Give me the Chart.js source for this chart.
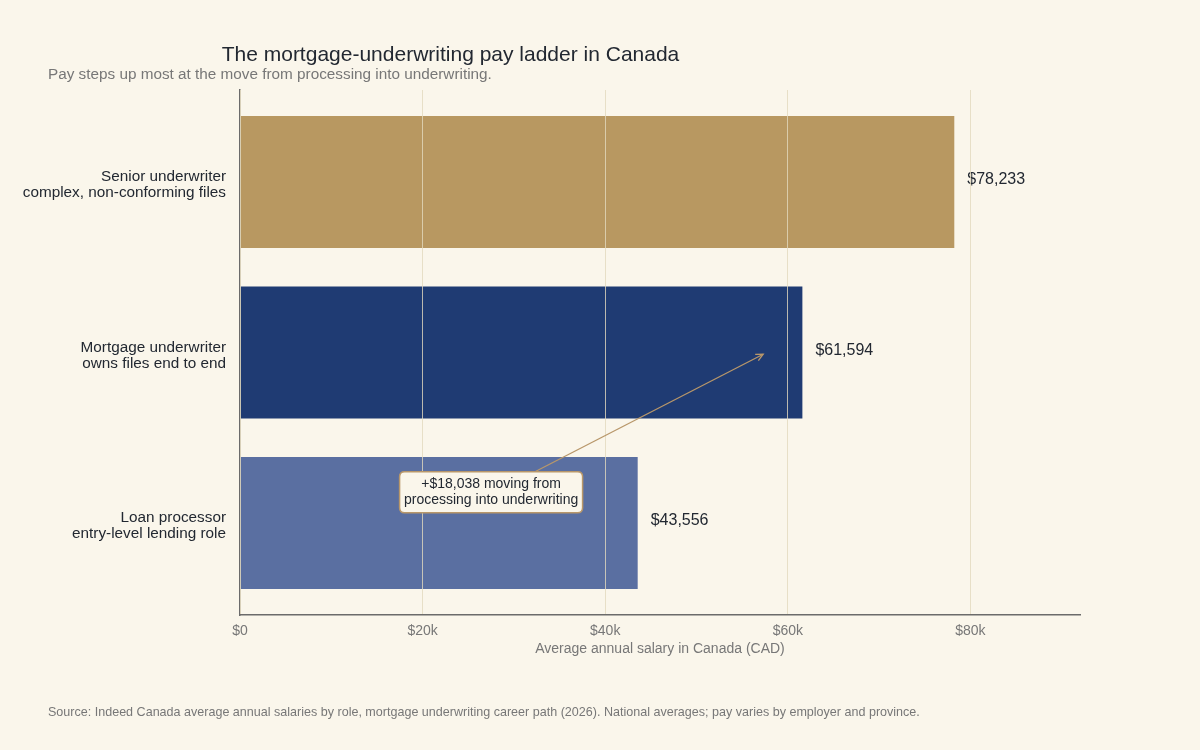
<!DOCTYPE html>
<html>
<head>
<meta charset="utf-8">
<script src="https://cdn.jsdelivr.net/npm/chart.js@4.4.1/dist/chart.umd.min.js"></script>
<style>
  html, body { margin: 0; padding: 0; background: #faf6eb; }
  body { width: 1200px; height: 750px; position: relative; overflow: hidden; font-family: "Liberation Sans", Arial, sans-serif; }
  #wrap { position: absolute; left: 0; top: 0; width: 1200px; height: 750px; }
  .title { position: absolute; left: 0; width: 901px; top: 42px; text-align: center; font-size: 21px; color: #222831; white-space: nowrap; }
  .subtitle { position: absolute; left: 48px; top: 65px; font-size: 15.3px; color: #777; white-space: nowrap; }
  .source { position: absolute; left: 48px; top: 705px; font-size: 12.55px; color: #777; white-space: nowrap; }
</style>
</head>
<body>
<div id="wrap"><canvas id="c" width="1200" height="750"></canvas></div>
<div class="title">The mortgage-underwriting pay ladder in Canada</div>
<div class="subtitle">Pay steps up most at the move from processing into underwriting.</div>
<div class="source">Source: Indeed Canada average annual salaries by role, mortgage underwriting career path (2026). National averages; pay varies by employer and province.</div>
<script>
const categories = [
  ["Senior underwriter", "complex, non-conforming files"],
  ["Mortgage underwriter", "owns files end to end"],
  ["Loan processor", "entry-level lending role"]
];
const salaries = [78233, 61594, 43556];
const barColors = ["#b89861", "#1f3b73", "#5a6fa1"];
const xTicks = [0, 20000, 40000, 60000, 80000];
const xTickLabels = ["$0", "$20k", "$40k", "$60k", "$80k"];
const annotationLines = ["+$18,038 moving from", "processing into underwriting"];
const annotationBox = { x: 27500, y: 1.82 };
const annotationTail = { x: 32300 };
const annotationHead = { x: 57300, y: 1.01 };

const points = salaries.map((v, i) => ({ x: v, y: i }));

const valueLabels = {
  id: 'valueLabels',
  afterDatasetsDraw(chart) {
    const ctx = chart.ctx;
    const meta = chart.getDatasetMeta(0);
    ctx.save();
    ctx.font = '16px "Liberation Sans", Arial, sans-serif';
    ctx.fillStyle = '#222831';
    ctx.textAlign = 'left';
    ctx.textBaseline = 'middle';
    meta.data.forEach((bar, i) => {
      const v = salaries[i];
      ctx.fillText('$' + v.toLocaleString('en-US'), bar.x + 13, bar.y - 2);
    });
    ctx.restore();
  }
};

const annotation = {
  id: 'annotation',
  afterDraw(chart) {
    const ctx = chart.ctx;
    const xs = chart.scales.x, ys = chart.scales.y;
    const cx = xs.getPixelForValue(annotationBox.x);
    const cy = ys.getPixelForValue(annotationBox.y);
    const w = 183, h = 41;
    const top = cy - h / 2;
    const tx = xs.getPixelForValue(annotationTail.x);
    const hx = xs.getPixelForValue(annotationHead.x);
    const hy = ys.getPixelForValue(annotationHead.y);
    ctx.save();
    ctx.strokeStyle = '#b8976a';
    ctx.lineWidth = 1.3;
    ctx.beginPath();
    ctx.moveTo(tx, top);
    ctx.lineTo(hx, hy);
    ctx.stroke();
    const ang = Math.atan2(hy - top, hx - tx);
    const L = 8;
    ctx.beginPath();
    ctx.moveTo(hx - L * Math.cos(ang - 0.45), hy - L * Math.sin(ang - 0.45));
    ctx.lineTo(hx, hy);
    ctx.lineTo(hx - L * Math.cos(ang + 0.45), hy - L * Math.sin(ang + 0.45));
    ctx.stroke();
    const r = 5;
    const l = cx - w / 2;
    ctx.beginPath();
    ctx.moveTo(l + r, top);
    ctx.lineTo(l + w - r, top);
    ctx.quadraticCurveTo(l + w, top, l + w, top + r);
    ctx.lineTo(l + w, top + h - r);
    ctx.quadraticCurveTo(l + w, top + h, l + w - r, top + h);
    ctx.lineTo(l + r, top + h);
    ctx.quadraticCurveTo(l, top + h, l, top + h - r);
    ctx.lineTo(l, top + r);
    ctx.quadraticCurveTo(l, top, l + r, top);
    ctx.closePath();
    ctx.fillStyle = '#faf6eb';
    ctx.fill();
    ctx.lineWidth = 1.5;
    ctx.stroke();
    ctx.fillStyle = '#222831';
    ctx.font = '14px "Liberation Sans", Arial, sans-serif';
    ctx.textAlign = 'center';
    ctx.textBaseline = 'middle';
    ctx.fillText(annotationLines[0], cx, cy - 8);
    ctx.fillText(annotationLines[1], cx, cy + 8);
    ctx.restore();
  }
};

new Chart(document.getElementById('c'), {
  type: 'bar',
  data: {
    datasets: [{
      data: points,
      backgroundColor: barColors,
      borderWidth: 0,
      categoryPercentage: 1,
      barPercentage: 0.775
    }]
  },
  options: {
    indexAxis: 'y',
    responsive: false,
    animation: false,
    devicePixelRatio: 1,
    layout: { padding: { left: 0, right: 120, top: 90, bottom: 75 } },
    plugins: { legend: { display: false }, tooltip: { enabled: false }, title: { display: false } },
    scales: {
      x: {
        type: 'linear',
        min: 0,
        max: 92000,
        afterFit(scale) { scale.height = 60; },
        afterBuildTicks(scale) { scale.ticks = xTicks.map(v => ({ value: v })); },
        ticks: {
          includeBounds: false,
          padding: 8,
          color: '#777',
          font: { family: '"Liberation Sans", Arial, sans-serif', size: 14 },
          callback: (v) => xTickLabels[xTicks.indexOf(v)]
        },
        grid: { z: 1, color: 'rgba(226,218,190,0.8)', lineWidth: 1, drawTicks: false },
        border: { display: true, color: '#6b6b6b', width: 1.5, z: 2 },
        title: {
          display: true,
          text: 'Average annual salary in Canada (CAD)',
          color: '#777',
          font: { family: '"Liberation Sans", Arial, sans-serif', size: 14 },
          padding: { top: 4, bottom: 17 }
        }
      },
      y: {
        type: 'linear',
        reverse: true,
        offset: false,
        min: -0.54,
        max: 2.54,
        afterFit(scale) { scale.width = 240; },
        afterBuildTicks(scale) { scale.ticks = categories.map((c, i) => ({ value: i })); },
        ticks: {
          padding: 14,
          labelOffset: 3,
          color: '#222831',
          font: { family: '"Liberation Sans", Arial, sans-serif', size: 15.3, lineHeight: 1.05 },
          callback: (v) => categories[v]
        },
        grid: { display: false, drawTicks: false, offset: false },
        border: { display: true, color: '#6b6b6b', width: 1.5 }
      }
    }
  },
  plugins: [valueLabels, annotation]
});
</script>
</body>
</html>
